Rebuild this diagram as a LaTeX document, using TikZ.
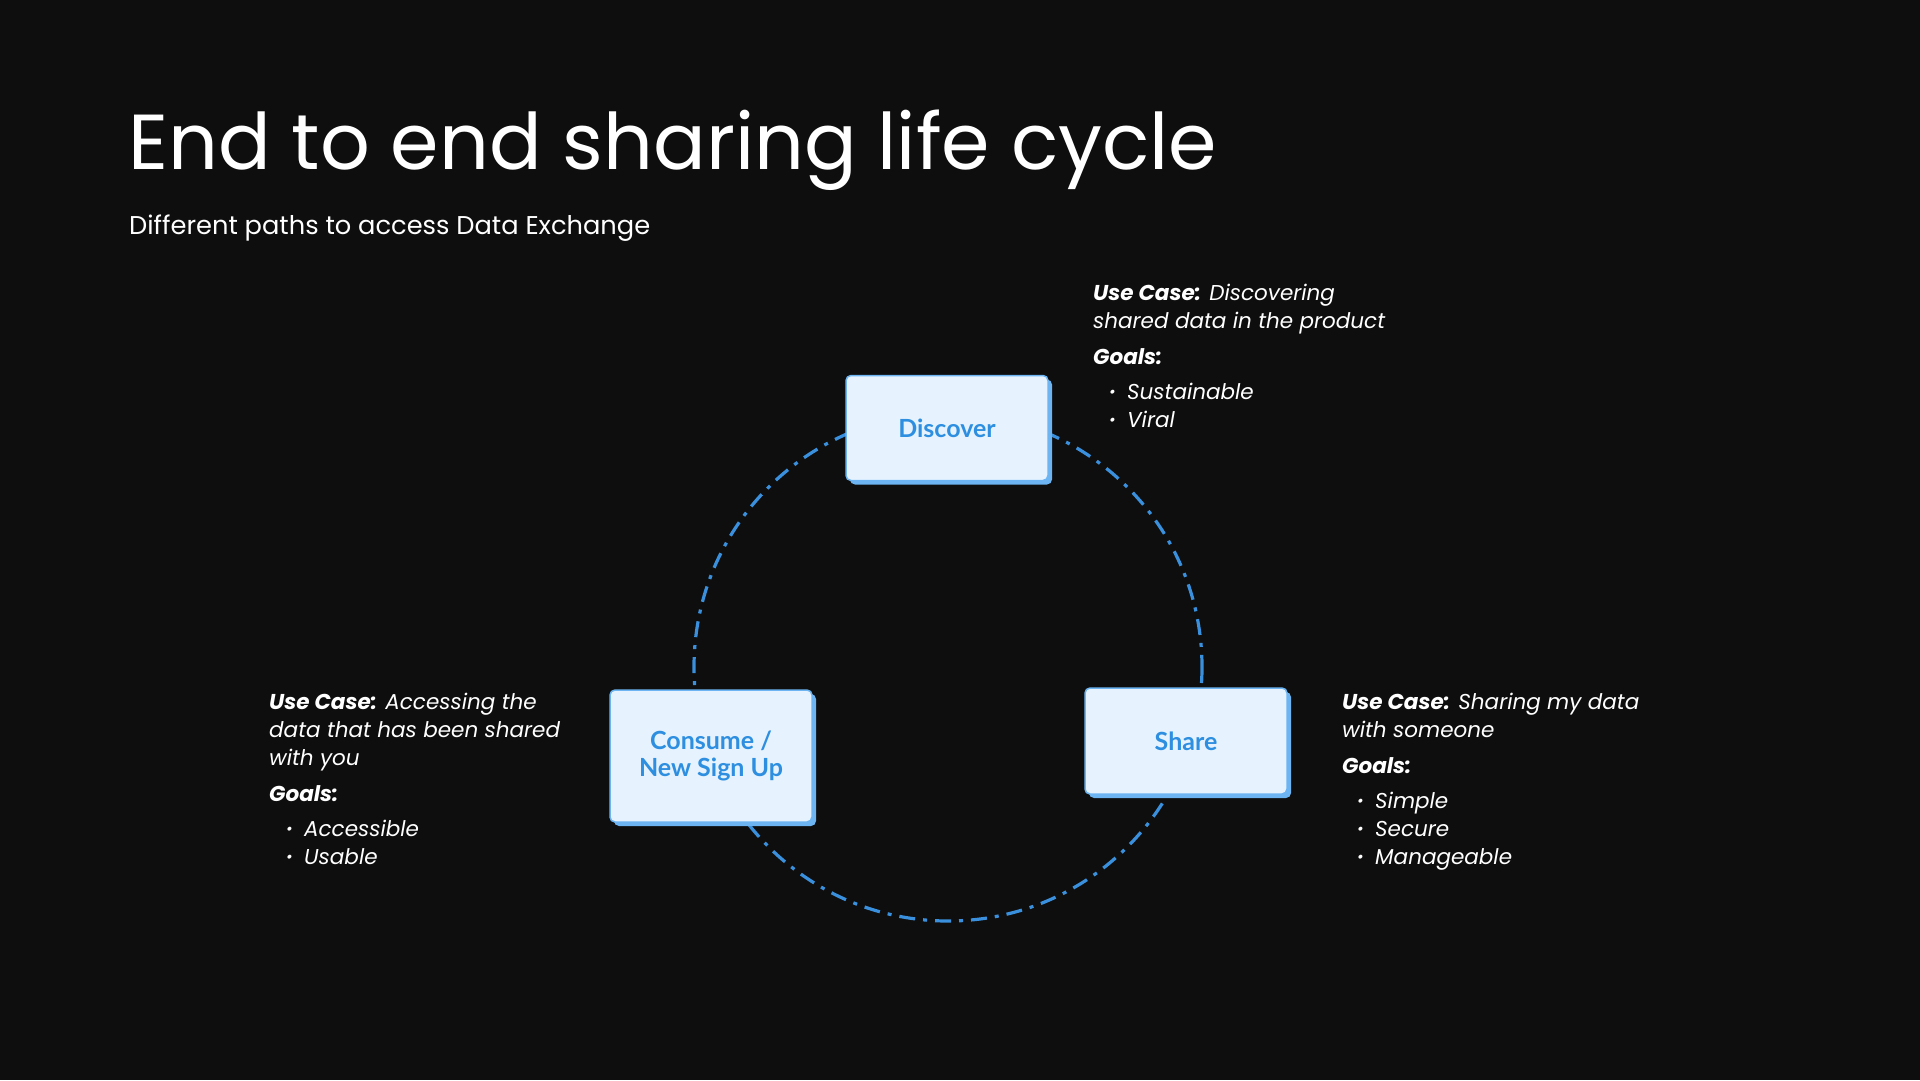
\documentclass[tikz,border=0pt]{standalone}
\usepackage{fontspec}
\setmainfont{Poppins}
\newfontfamily\labelfont{Lato}
\usepackage{xcolor}
\usetikzlibrary{positioning}
\usetikzlibrary{shadows}

\definecolor{pagebg}{HTML}{0E0E0E}
\definecolor{boxfill}{HTML}{E6F3FF}
\definecolor{boxline}{HTML}{6CB4F2}
\definecolor{boxtext}{HTML}{2E8FE0}
\definecolor{ringblue}{HTML}{3A90DC}

\newcommand{\goalmark}{\makebox[18pt][l]{\fontsize{16}{16}\selectfont\raisebox{2pt}{•}}}

\begin{document}
\begin{tikzpicture}[
			x=1pt, y=-1pt,
			stage/.style = {draw=boxline, fill=boxfill, line width=1.5pt, rounded corners=5pt,
					minimum width=202pt, align=center, text=boxtext,
					font=\labelfont\bfseries\fontsize{25}{27}\selectfont,
					drop shadow={shadow xshift=4pt, shadow yshift=-4pt, fill=boxline, opacity=1}},
			note/.style  = {anchor=base west, inner sep=0pt, text=white, font=\itshape\fontsize{21.5}{28}\selectfont},
			ring/.style  = {ringblue, line width=3.2pt, dash pattern=on 16pt off 8pt on 4pt off 8pt}
			]
			\fill[pagebg] (0,0) rectangle (1920,1080);

			% heading
			\node[anchor=base west, inner sep=0pt, text=white, font=\fontsize{78}{84}\selectfont] (title) at (128,169) {End to end sharing life cycle};
			\node[anchor=base west, inner sep=0pt, text=white, font=\fontsize{25.7}{30}\selectfont] (subtitle) at (129,234) {Different paths to access Data Exchange};

			% ring
			\coordinate (hub) at (948,667);
			\draw[ring] (hub) circle[radius=254];

			% stages
			\node[stage, minimum height=105pt] (discover) at (947,428) {Discover};
			\node[stage, minimum height=132pt] (consume) at (711,756) {Consume /\\New Sign Up};
			\node[stage, minimum height=106pt] (share) at (1186,741) {Share};

			% discover notes
			\node[note] (discover-uc1) at (1093,300) {\textbf{Use Case:} Discovering};
			\node[note] (discover-uc2) at (1093,328) {shared data in the product};
			\node[note] (discover-goals) at (1093,364) {\textbf{Goals:}};
			\foreach \y/\goal [count=\i] in {399/Sustainable, 427/Viral}
			\node[note] (discover-g\i) at (1109,\y) {\goalmark\goal};

			% consume notes
			\node[note] (consume-uc1) at (269,709) {\textbf{Use Case:} Accessing the};
			\node[note] (consume-uc2) at (269,737) {data that has been shared};
			\node[note] (consume-uc3) at (269,765) {with you};
			\node[note] (consume-goals) at (269,801) {\textbf{Goals:}};
			\foreach \y/\goal [count=\i] in {836/Accessible, 864/Usable}
			\node[note] (consume-g\i) at (286,\y) {\goalmark\goal};

			% share notes
			\node[note] (share-uc1) at (1342,709) {\textbf{Use Case:} Sharing my data};
			\node[note] (share-uc2) at (1342,737) {with someone};
			\node[note] (share-goals) at (1342,773) {\textbf{Goals:}};
			\foreach \y/\goal [count=\i] in {808/Simple, 836/Secure, 864/Manageable}
			\node[note] (share-g\i) at (1357,\y) {\goalmark\goal};
		\end{tikzpicture}
\end{document}
